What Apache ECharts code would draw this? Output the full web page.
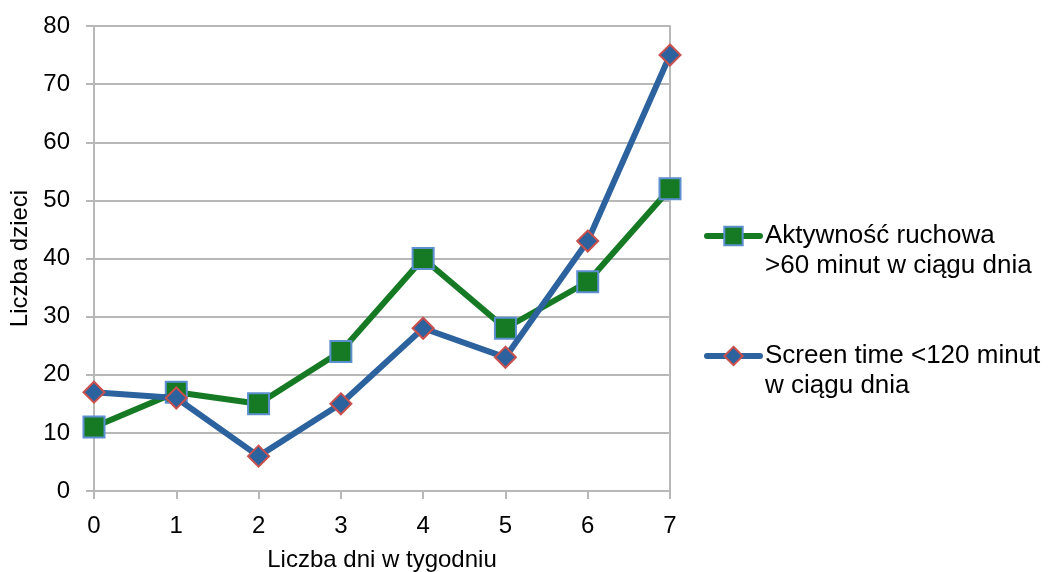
<!DOCTYPE html>
<html>
<head>
<meta charset="utf-8">
<script src="https://cdn.jsdelivr.net/npm/echarts@6/dist/echarts.min.js"></script>
<style>
html,body{margin:0;padding:0;background:#fff;}
#chart{width:1049px;height:572px;}
</style>
</head>
<body>
<div id="chart"></div>
<script>
// Days per week (x) and number of children (y)
const days = [0, 1, 2, 3, 4, 5, 6, 7];
const activity = [11, 17, 15, 24, 40, 28, 36, 52];
const screenTime = [17, 16, 6, 15, 28, 23, 43, 75];
const seriesNames = ['Aktywność ruchowa\n>60 minut w ciągu dnia', 'Screen time <120 minut\nw ciągu dnia'];
const xTitle = 'Liczba dni w tygodniu';
const yTitle = 'Liczba dzieci';

const font = 'Liberation Sans, Arial, sans-serif';
const gridGray = '#b8b8b8';
const green = '#167a25';
const blue = '#2c629e';

const chart = echarts.init(document.getElementById('chart'), null, {renderer: 'canvas'});
chart.setOption({
  animation: false,
  backgroundColor: '#fff',
  grid: {left: 94, right: 379, top: 26, bottom: 81, containLabel: false, outerBoundsMode: 'none'},
  legend: {
    orient: 'vertical',
    left: 704,
    top: 191,
    padding: 0,
    itemWidth: 53,
    itemHeight: 23,
    itemGap: 30,
    lineStyle: {width: 6, cap: 'round'},
    // a leading empty line keeps the first text line level with the icon
    formatter: name => '\n' + name,
    textStyle: {fontFamily: font, fontSize: 26, color: '#000', lineHeight: 30},
    data: [{name: seriesNames[0]}, {name: seriesNames[1]}]
  },
  xAxis: {
    type: 'value', min: 0, max: 7, interval: 1,
    name: xTitle, nameLocation: 'middle', nameGap: 57,
    nameTextStyle: {fontFamily: font, fontSize: 24, color: '#000'},
    axisLine: {show: true, lineStyle: {color: gridGray, width: 2}},
    axisTick: {show: true, length: 8, lineStyle: {color: gridGray, width: 2}},
    axisLabel: {fontFamily: font, fontSize: 24, color: '#000', margin: 23},
    splitLine: {show: false}
  },
  yAxis: [{
    type: 'value', min: 0, max: 80, interval: 10,
    name: yTitle, nameLocation: 'middle', nameGap: 62,
    nameTextStyle: {fontFamily: font, fontSize: 24, color: '#000'},
    axisLine: {show: true, lineStyle: {color: gridGray, width: 2}},
    axisTick: {show: true, inside: false, length: 8, lineStyle: {color: gridGray, width: 2}},
    axisLabel: {fontFamily: font, fontSize: 24, color: '#000', margin: 24},
    splitLine: {show: true, lineStyle: {color: gridGray, width: 2}}
  }, {
    type: 'value', min: 0, max: 80, interval: 10, position: 'right',
    axisLine: {show: true, lineStyle: {color: gridGray, width: 2}},
    axisTick: {show: false}, axisLabel: {show: false}, splitLine: {show: false}
  }],
  series: [{
    name: seriesNames[0],
    type: 'line',
    data: days.map((d, i) => [d, activity[i]]),
    symbol: 'rect', symbolSize: 21,
    lineStyle: {color: green, width: 6},
    itemStyle: {color: green, borderColor: '#5b8fd0', borderWidth: 2},
    z: 2
  }, {
    name: seriesNames[1],
    type: 'line',
    data: days.map((d, i) => [d, screenTime[i]]),
    symbol: 'diamond', symbolSize: 21,
    lineStyle: {color: blue, width: 6},
    itemStyle: {color: blue, borderColor: '#c9504d', borderWidth: 2},
    z: 3
  }]
});
</script>
</body>
</html>
